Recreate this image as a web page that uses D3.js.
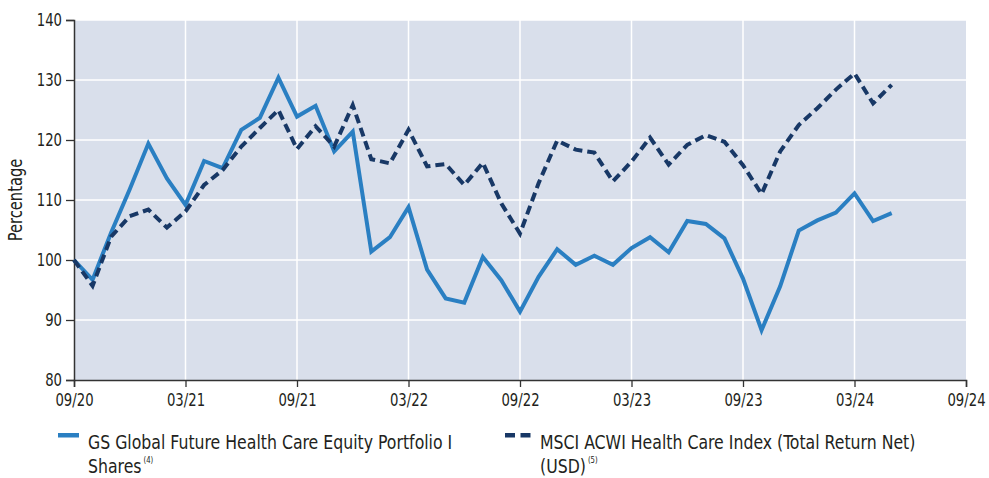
<!DOCTYPE html>
<html>
<head>
<meta charset="utf-8">
<script src="https://cdn.jsdelivr.net/npm/d3@7"></script>
<style>
  html, body { margin: 0; padding: 0; background: #fff; }
  svg { display: block; }
</style>
</head>
<body>
<div id="chart"></div>
<script>
// Month-end values, rebased to 100 at 09/20 (one value per month).
const fundValues = [
  100, 96.7, 104.6, 111.8, 119.4, 113.6, 109.2, 116.5, 115.3, 121.7,
  123.7, 130.4, 123.9, 125.7, 118.1, 121.4, 101.4, 103.8, 108.8, 98.4,
  93.6, 92.9, 100.5, 96.6, 91.4, 97.2, 101.8, 99.2, 100.7, 99.2,
  102.0, 103.8, 101.3, 106.5, 106.0, 103.6, 96.9, 88.3, 95.6, 104.9,
  106.6, 107.9, 111.1, 106.5, 107.8
];
const indexValues = [
  100, 95.7, 103.9, 107.3, 108.4, 105.4, 108.1, 112.5, 115.0, 118.9,
  122.0, 125.0, 118.5, 122.3, 118.9, 125.8, 116.8, 116.1, 121.7, 115.6,
  116.0, 112.5, 116.2, 109.4, 104.4, 112.8, 119.9, 118.4, 117.9, 113.1,
  116.4, 120.4, 115.9, 119.2, 120.8, 119.7, 115.8, 111.0, 118.1, 122.5,
  125.3, 128.4, 131.1, 126.1, 129.2
];
const xTickLabels = ["09/20", "03/21", "09/21", "03/22", "09/22", "03/23", "09/23", "03/24", "09/24"];
const yTicks = [80, 90, 100, 110, 120, 130, 140];
const seriesNames = [
  ["GS Global Future Health Care Equity Portfolio I", "Shares", "(4)"],
  ["MSCI ACWI Health Care Index (Total Return Net)", "(USD)", "(5)"]
];

const width = 989;
const height = 478;
const margin = { top: 20, right: 23, bottom: 98, left: 74 };
const fontFamily = "'DejaVu Sans Condensed', 'DejaVu Sans', sans-serif";
const textColor = "#231f20";
const fundColor = "#2a7fc2";
const indexColor = "#183866";

// Squeeze a text horizontally to imitate the narrow face of the original.
function condense(selection, k) {
  selection.each(function () {
    const w = this.getComputedTextLength();
    d3.select(this)
      .attr("textLength", w * k)
      .attr("lengthAdjust", "spacingAndGlyphs");
  });
}

const svg = d3.select("#chart")
  .append("svg")
  .attr("width", width)
  .attr("height", height)
  .attr("font-family", fontFamily);

// Scales: x runs in months since 09/20.
const x = d3.scaleLinear()
  .domain([0, 48])
  .range([margin.left, width - margin.right]);
const y = d3.scaleLinear()
  .domain([80, 140])
  .range([height - margin.bottom, margin.top]);

// Plot background.
svg.append("rect")
  .attr("x", x(0))
  .attr("y", y(140))
  .attr("width", x(48) - x(0))
  .attr("height", y(80) - y(140))
  .attr("fill", "#d9dfeb");

// Grid lines.
const xTickValues = xTickLabels.map((_, i) => i * 6);
svg.append("g")
  .selectAll("line")
  .data(yTicks.filter(d => d > 80))
  .join("line")
  .attr("x1", x(0))
  .attr("x2", x(48))
  .attr("y1", d => y(d))
  .attr("y2", d => y(d))
  .attr("stroke", "#fff")
  .attr("stroke-width", 1.5);
svg.append("g")
  .selectAll("line")
  .data(xTickValues.filter(d => d > 0 && d < 48))
  .join("line")
  .attr("x1", d => x(d))
  .attr("x2", d => x(d))
  .attr("y1", y(80))
  .attr("y2", y(140))
  .attr("stroke", "#fff")
  .attr("stroke-width", 1.5);

// Axes.
const xAxis = svg.append("g")
  .attr("transform", `translate(0,${y(80)})`)
  .call(d3.axisBottom(x)
    .tickValues(xTickValues)
    .tickSize(7)
    .tickPadding(7)
    .tickFormat((d, i) => xTickLabels[i]));
const yAxis = svg.append("g")
  .attr("transform", `translate(${x(0)},0)`)
  .call(d3.axisLeft(y)
    .tickValues(yTicks)
    .tickSize(8)
    .tickPadding(4)
    .tickFormat(d3.format("d")));

[xAxis, yAxis].forEach(axis => {
  axis.select(".domain")
    .attr("stroke", "#333")
    .attr("stroke-width", 1.5);
  axis.selectAll(".tick line")
    .attr("stroke", "#333")
    .attr("stroke-width", 1.3);
  axis.selectAll(".tick text")
    .attr("fill", textColor)
    .attr("font-family", fontFamily)
    .attr("font-size", 17.5)
    .call(condense, 0.84);
});

// Y axis title.
svg.append("text")
  .attr("transform", `translate(22,${(y(80) + y(140)) / 2}) rotate(-90)`)
  .attr("text-anchor", "middle")
  .attr("fill", textColor)
  .attr("font-size", 19)
  .text("Percentage")
  .call(condense, 0.86);

// Lines.
const line = d3.line()
  .x((d, i) => x(i))
  .y(d => y(d));

svg.append("path")
  .datum(fundValues)
  .attr("d", line)
  .attr("fill", "none")
  .attr("stroke", fundColor)
  .attr("stroke-width", 4)
  .attr("stroke-linejoin", "miter");

svg.append("path")
  .datum(indexValues)
  .attr("d", line)
  .attr("fill", "none")
  .attr("stroke", indexColor)
  .attr("stroke-width", 4)
  .attr("stroke-dasharray", "9,5")
  .attr("stroke-linejoin", "miter");

// Legend.
const legendX = [58, 505];
const legend = svg.append("g");
seriesNames.forEach((name, i) => {
  const g = legend.append("g").attr("transform", `translate(${legendX[i]},0)`);
  const tx = i === 0 ? 30 : 35;
  if (i === 0) {
    g.append("rect")
      .attr("x", 0).attr("y", 433)
      .attr("width", 21).attr("height", 4.5)
      .attr("fill", fundColor);
  } else {
    [0, 15.5].forEach(dx => g.append("rect")
      .attr("x", dx).attr("y", 433)
      .attr("width", 10).attr("height", 4.5)
      .attr("fill", indexColor));
  }
  g.append("text")
    .attr("x", tx)
    .attr("y", 449)
    .attr("fill", textColor)
    .attr("font-size", 19)
    .text(name[0])
    .call(condense, 0.92);
  const second = g.append("text")
    .attr("x", tx)
    .attr("y", 473)
    .attr("fill", textColor)
    .attr("font-size", 19)
    .text(name[1])
    .call(condense, 0.92);
  const w = +second.attr("textLength");
  g.append("text")
    .attr("x", tx + w + 2)
    .attr("y", 463)
    .attr("fill", textColor)
    .attr("font-size", 9)
    .text(name[2])
    .call(condense, 0.85);
});
</script>
</body>
</html>
